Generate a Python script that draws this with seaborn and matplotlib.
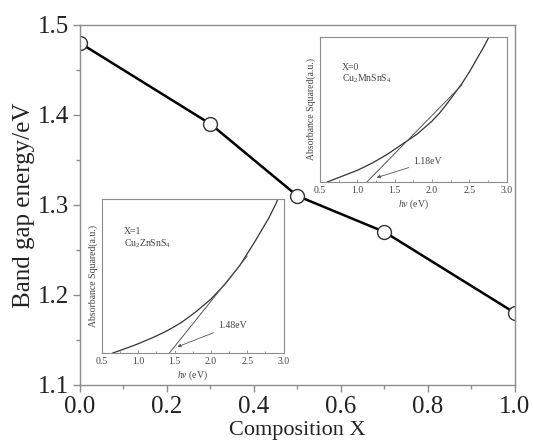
import matplotlib
matplotlib.use("Agg")
import matplotlib.pyplot as plt
import seaborn as sns
import numpy as np
import pandas as pd

# ---- main data ----
composition = [0.0, 0.3, 0.5, 0.7, 1.0]
band_gap = [1.48, 1.39, 1.31, 1.27, 1.18]

# ---- inset X=0 (Cu2MnSnS4) ----
x0_energy = [0.6, 0.7, 0.8, 0.9, 1.0, 1.1, 1.2, 1.3, 1.4, 1.5, 1.6, 1.7, 1.8, 1.9,
             2.0, 2.1, 2.2, 2.3, 2.4, 2.5, 2.6, 2.7, 2.76]
x0_abs = [0.0, 0.02, 0.04, 0.06, 0.08, 0.105, 0.13, 0.16, 0.19, 0.225, 0.26, 0.295,
          0.33, 0.375, 0.42, 0.475, 0.54, 0.61, 0.68, 0.76, 0.85, 0.94, 1.0]
x0_tan_energy = [1.13, 2.40]
x0_tan_abs = [0.0, 0.67]

# ---- inset X=1 (Cu2ZnSnS4) ----
x1_energy = [0.65, 0.7, 0.8, 0.9, 1.0, 1.1, 1.2, 1.3, 1.4, 1.5, 1.6, 1.7, 1.8, 1.9,
             2.0, 2.1, 2.2, 2.3, 2.4, 2.5, 2.6, 2.7, 2.8, 2.9, 2.92]
x1_abs = [0.0, 0.008, 0.025, 0.042, 0.06, 0.08, 0.10, 0.122, 0.145, 0.172, 0.20,
          0.235, 0.27, 0.31, 0.35, 0.40, 0.45, 0.51, 0.57, 0.645, 0.72, 0.80, 0.88,
          0.975, 1.0]
x1_tan_energy = [1.43, 2.50]
x1_tan_abs = [0.0, 0.63]

sns.set_theme(style="ticks")
plt.rcParams['font.family'] = ['Liberation Serif', 'DejaVu Serif']
plt.rcParams['mathtext.fontset'] = 'custom'
plt.rcParams['mathtext.rm'] = 'Liberation Serif'
plt.rcParams['mathtext.it'] = 'Liberation Serif:italic'

spine_col = '#8c8c8c'
txt_col = '#444444'

fig = plt.figure(figsize=(5.33, 4.46), dpi=100)
ax = fig.add_axes([0.150, 0.137, 0.816, 0.807])

df = pd.DataFrame({'x': composition, 'y': band_gap})
sns.lineplot(data=df, x='x', y='y', ax=ax, color='black', linewidth=1.8,
             marker='o', markersize=10, markerfacecolor='white',
             markeredgecolor='#333333', markeredgewidth=1.0)

ax.set_xlim(0.0, 1.0)
ax.set_ylim(1.1, 1.5)
ax.set_xticks([0.0, 0.2, 0.4, 0.6, 0.8, 1.0])
ax.set_xticks(np.arange(0.1, 1.0, 0.2), minor=True)
ax.set_yticks([1.1, 1.2, 1.3, 1.4, 1.5])
ax.set_yticks([1.15, 1.25, 1.35, 1.45], minor=True)
ax.tick_params(axis='both', which='major', direction='out', length=5, width=1,
               color=spine_col, labelsize=18, labelcolor='#222222', pad=3)
ax.tick_params(axis='both', which='minor', direction='out', length=3, width=1,
               color=spine_col)
ax.tick_params(top=False, right=False, which='both')
for s in ax.spines.values():
    s.set_visible(True)
    s.set_color(spine_col)
    s.set_linewidth(1.0)
ax.set_xlabel('Composition X', fontsize=16, color='#222222', labelpad=2)
ax.set_ylabel('Band gap energy/eV', fontsize=18, color='#222222', labelpad=2)


def make_inset(rect, e, a, te, ta, label1, label2, tip, txtpos, txt):
    ins = fig.add_axes(rect)
    d1 = pd.DataFrame({'e': e, 'a': a})
    d2 = pd.DataFrame({'e': te, 'a': ta})
    sns.lineplot(data=d1, x='e', y='a', ax=ins, color='#333333', linewidth=0.9)
    sns.lineplot(data=d2, x='e', y='a', ax=ins, color='#555555', linewidth=0.7)
    ins.set_xlim(0.5, 3.0)
    ins.set_ylim(0.0, 1.0)
    ins.set_xticks([0.5, 1.0, 1.5, 2.0, 2.5, 3.0])
    ins.set_xticks(np.arange(0.75, 3.0, 0.5), minor=True)
    ins.set_yticks([])
    ins.tick_params(axis='x', which='major', direction='in', length=2.5, width=0.6,
                    color=spine_col, labelsize=7, labelcolor=txt_col, pad=3)
    ins.tick_params(axis='x', which='minor', direction='in', length=1.5, width=0.6,
                    color=spine_col)
    for s in ins.spines.values():
        s.set_visible(True)
        s.set_color(spine_col)
        s.set_linewidth(0.8)
    ins.set_xlabel('$hv$ (eV)', fontsize=7, color=txt_col, labelpad=2)
    ins.set_ylabel('Absorbance Squared(a.u.)', fontsize=7, color=txt_col, labelpad=3)
    ins.text(0.12, 0.79, label1, transform=ins.transAxes, fontsize=7, color=txt_col,
             ha='left', va='center')
    ins.text(0.12, 0.71, label2, transform=ins.transAxes, fontsize=7, color=txt_col,
             ha='left', va='center')
    ins.annotate(txt, xy=tip, xytext=txtpos, fontsize=7, color=txt_col,
                 ha='left', va='center',
                 arrowprops=dict(arrowstyle='-|>', color='#555555', lw=0.6,
                                 mutation_scale=5, shrinkA=1, shrinkB=0))
    return ins


make_inset([0.600, 0.592, 0.351, 0.325], x0_energy, x0_abs, x0_tan_energy, x0_tan_abs,
           'X=0', 'Cu$_2$MnSnS$_4$', (1.26, 0.03), (1.75, 0.14), '1.18eV')
make_inset([0.191, 0.2085, 0.341, 0.345], x1_energy, x1_abs, x1_tan_energy, x1_tan_abs,
           'X=1', 'Cu$_2$ZnSnS$_4$', (1.54, 0.04), (2.1, 0.18), '1.48eV')

fig.savefig('out.png', dpi=100)
